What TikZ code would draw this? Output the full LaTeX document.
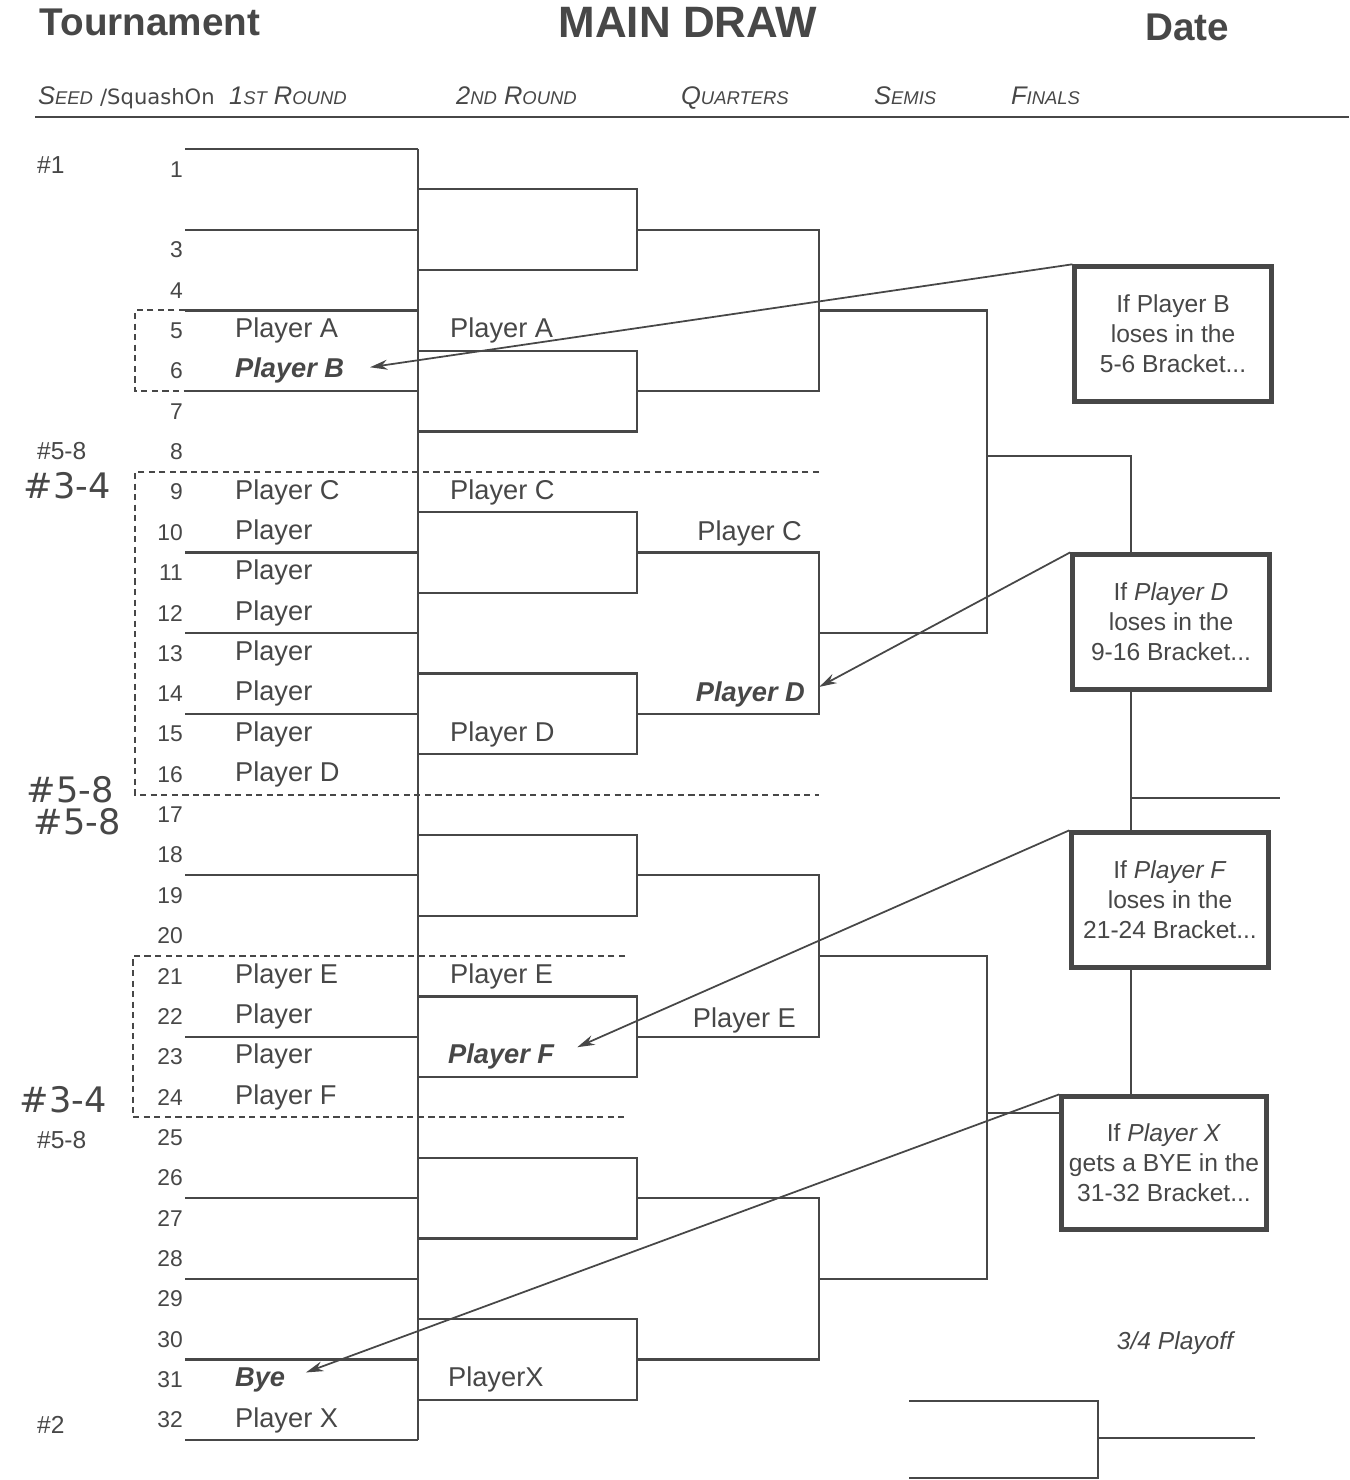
\documentclass[tikz,border=0pt]{standalone}
\usepackage{fontspec}
\setmainfont{Liberation Sans}
\newfontfamily\handfont{DejaVu Sans}
\usetikzlibrary{arrows.meta}
\definecolor{ink}{gray}{0.28}
\newcommand\smc[2]{#1{\fontsize{10.5}{12}\selectfont #2}}

\begin{document}
\begin{tikzpicture}[x=0.02cm, y=-0.02cm, color=ink, line width=1.3pt,
    pagehead/.style={inner sep=0, font=\bfseries\fontsize{22}{24}\selectfont},
    colhead/.style={anchor=base west, inner sep=0, font=\itshape\fontsize{14.5}{16}\selectfont},
    num/.style={anchor=east, inner sep=0, font=\fontsize{13}{14}\selectfont},
    seedtag/.style={anchor=west, inner sep=0, font=\fontsize{14}{16}\selectfont},
    handtag/.style={inner sep=0, font=\handfont\fontsize{20}{22}\selectfont},
    player/.style={anchor=west, inner sep=0, font=\fontsize{15.5}{18}\selectfont},
    winner/.style={player, font=\bfseries\itshape\fontsize{15.5}{18}\selectfont},
    notebox/.style={draw, line width=2.5pt, fill=white, align=center,
                    minimum width=3.94cm, minimum height=2.7cm,
                    font=\fontsize{14}{17}\selectfont},
    dashcut/.style={line width=1.1pt, dash pattern=on 3.5pt off 2.5pt},
    pointer/.style={-{Stealth[length=3.5mm, width=2mm]}, line width=1pt}
]
    \useasboundingbox (0,0) rectangle (1349,1480);

    \node[pagehead] (tour) at (150,22) {Tournament};
    \node[pagehead, font=\bfseries\fontsize{25}{28}\selectfont] (main) at (688,22) {MAIN DRAW};
    \node[pagehead] (date) at (1187,27) {Date};

    \node[colhead] (hseed) at (37,105) {\smc{S}{EED}};
    \node[colhead, font=\handfont\fontsize{12}{14}\selectfont] (hsq) at (99,105) {/SquashOn};
    \node[colhead] (hr1) at (228,105) {\smc{1}{ST} \smc{R}{OUND}};
    \node[colhead] (hr2) at (455,105) {\smc{2}{ND} \smc{R}{OUND}};
    \node[colhead] (hqf) at (680,105) {\smc{Q}{UARTERS}};
    \node[colhead] (hsf) at (873,105) {\smc{S}{EMIS}};
    \node[colhead] (hfi) at (1010,105) {\smc{F}{INALS}};
    \draw (35,117) -- (1349,117);

    \foreach \n in {1,3,4,...,32}
        \node[num] (n\n) at (184,{149+(\n-0.5)*40.35}) {\n};

    \node[seedtag] (s1) at (36,165) {\#1};
    \node[seedtag] (s58a) at (36,451) {\#5-8};
    \node[seedtag] (s58b) at (36,1140) {\#5-8};
    \node[seedtag] (s2) at (36,1425) {\#2};
    \node[handtag] (h34a) at (67,486) {\#3-4};
    \node[handtag] (h58a) at (70,790) {\#5-8};
    \node[handtag] (h58b) at (77,822) {\#5-8};
    \node[handtag] (h34b) at (63,1100) {\#3-4};

    \foreach \b in {0,2,4,6,10,12,14,18,22,26,28,30,32}
        \draw (185,{149+\b*40.35}) -- (418,{149+\b*40.35});
    \draw (418,149) -- (418,1440);
    \foreach \j in {0,...,7}
        \draw (418,{149+(4*\j+1)*40.35}) -| (637,{149+(4*\j+3)*40.35}) -- (418,{149+(4*\j+3)*40.35});
    \foreach \q in {0,...,3}
        \draw (637,{149+(8*\q+2)*40.35}) -| (819,{149+(8*\q+6)*40.35}) -- (637,{149+(8*\q+6)*40.35});
    \foreach \s in {0,1}
        \draw (819,{149+(16*\s+4)*40.35}) -| (987,{149+(16*\s+12)*40.35}) -- (819,{149+(16*\s+12)*40.35});
    \draw (987,456) -| (1131,1113) -- (987,1113);
    \draw (1131,798) -- (1280,798);
    \draw (909,1401) -| (1098,1478) -- (909,1478);
    \draw (1098,1438) -- (1255,1438);

    \draw[dashcut] (185,310.4) -- (135,310.4) -- (135,391.1) -- (185,391.1);
    \draw[dashcut] (819,471.8) -- (135,471.8) -- (135,794.6) -- (819,794.6);
    \draw[dashcut] (625,956) -- (133,956) -- (133,1117.4) -- (625,1117.4);

    \node[player] (pa) at (234,330.6) {Player A};
    \node[winner] (pb) at (234,370.9) {Player B};
    \node[player] (pc) at (234,492) {Player C};
    \foreach \k in {10,...,15}
        \node[player] (p\k) at (234,{149+(\k-0.5)*40.35}) {Player};
    \node[player] (pd) at (234,774.5) {Player D};
    \node[player] (pe) at (234,976.2) {Player E};
    \node[player] (p22) at (234,1016.6) {Player};
    \node[player] (p23) at (234,1056.9) {Player};
    \node[player] (pf) at (234,1097.3) {Player F};
    \node[winner] (bye) at (234,1379.7) {Bye};
    \node[player] (px) at (234,1420) {Player X};

    \node[player] (r2a) at (449,330.6) {Player A};
    \node[player] (r2c) at (449,492) {Player C};
    \node[player] (r2d) at (449,734.1) {Player D};
    \node[player] (r2e) at (449,976.2) {Player E};
    \node[winner] (r2f) at (447,1056.9) {Player F};
    \node[player] (r2x) at (447,1379.7) {PlayerX};

    \node[player, anchor=east] (qc) at (803,533) {Player C};
    \node[winner, anchor=east] (qd) at (806,694) {Player D};
    \node[player, anchor=east] (qe) at (797,1020) {Player E};

    \node[notebox] (ifb) at (1173,334) {If Player B\\loses in the\\5-6 Bracket...};
    \node[notebox] (ifd) at (1171,622) {If \textit{Player D}\\loses in the\\9-16 Bracket...};
    \node[notebox] (iff) at (1170,900) {If \textit{Player F}\\loses in the\\21-24 Bracket...};
    \node[notebox, minimum width=4.1cm, minimum height=2.66cm] (ifx) at (1164,1163) {If \textit{Player X}\\gets a BYE in the\\31-32 Bracket...};
    \node[font=\itshape\fontsize{14}{17}\selectfont] (po) at (1175,1343) {3/4 Playoff};

    \draw[pointer, shorten >=0.5cm] (ifb.north west) -- (pb.east);
    \draw[pointer, shorten >=0.3cm] (ifd.north west) -- (qd.east);
    \draw[pointer, shorten >=0.48cm] (iff.north west) -- (r2f.east);
    \draw[pointer, shorten >=0.42cm] (ifx.north west) -- (bye.east);
\end{tikzpicture}
\end{document}
